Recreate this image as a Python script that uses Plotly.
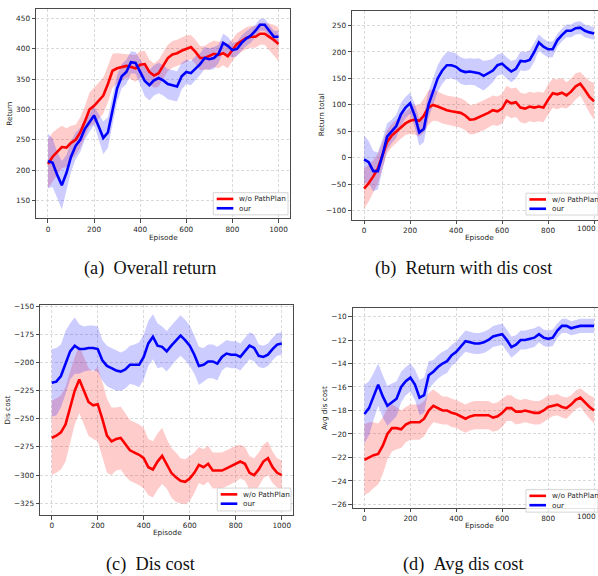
import plotly.graph_objects as go

W, H = 598, 576

episodes = list(range(0, 1001, 20))

# (a) Overall return
a_red_mean = [210, 222, 230, 238, 237, 245, 250, 262, 280, 300, 306, 315, 323, 342, 364, 368, 370, 372, 370, 368,
              374, 375, 362, 356, 360, 372, 385, 391, 393, 397, 400, 403, 395, 385, 385, 388, 392, 390, 393, 388,
              398, 408, 413, 418, 420, 420, 425, 425, 420, 415, 408]
a_red_sd = [40, 40, 38, 35, 32, 28, 25, 25, 25, 28, 30, 30, 30, 30, 28, 25, 22, 20, 20, 22,
            22, 22, 20, 20, 22, 22, 22, 22, 22, 22, 22, 20, 20, 20, 20, 22, 22, 22, 20, 20,
            18, 18, 18, 18, 18, 18, 18, 18, 22, 25, 28]
a_blue_mean = [215, 212, 192, 175, 195, 222, 240, 250, 268, 278, 290, 272, 253, 262, 300, 335, 355, 362, 378, 377,
               362, 347, 340, 348, 352, 348, 342, 340, 338, 355, 362, 360, 368, 375, 385, 383, 385, 392, 410, 405,
               398, 400, 410, 417, 422, 430, 440, 440, 430, 420, 420]
a_blue_sd = [45, 40, 38, 40, 30, 25, 22, 20, 18, 15, 15, 20, 27, 25, 25, 22, 20, 20, 18, 18,
             20, 25, 25, 25, 25, 25, 25, 25, 25, 22, 20, 20, 20, 18, 18, 18, 18, 15, 15, 15,
             12, 12, 12, 12, 12, 10, 10, 10, 10, 10, 10]

# (b) Return with dis cost
b_red_mean = [-58, -48, -35, -20, 5, 30, 42, 50, 58, 65, 70, 72, 70, 80, 95, 100, 97, 93, 90, 88,
              87, 85, 80, 72, 73, 77, 80, 85, 90, 88, 93, 108, 103, 105, 95, 93, 97, 95, 97, 95,
              110, 122, 120, 123, 118, 125, 135, 140, 128, 115, 107]
b_red_sd = [38, 35, 30, 28, 25, 22, 22, 22, 22, 22, 25, 28, 30, 32, 32, 30, 28, 28, 28, 28,
            28, 28, 28, 28, 28, 28, 28, 28, 28, 28, 28, 28, 28, 28, 28, 28, 28, 28, 28, 28,
            28, 28, 28, 28, 25, 25, 25, 22, 25, 30, 35]
b_blue_mean = [-3, -8, -25, -25, 5, 40, 50, 60, 82, 95, 103, 80, 48, 55, 100, 125, 150, 165, 175, 175,
               172, 165, 162, 163, 162, 160, 155, 160, 165, 175, 178, 170, 163, 168, 183, 182, 185, 200, 218, 210,
               205, 205, 222, 232, 240, 240, 245, 246, 240, 237, 235]
b_blue_sd = [45, 40, 38, 35, 30, 25, 22, 22, 22, 20, 20, 22, 25, 25, 25, 25, 25, 25, 25, 25,
             25, 25, 25, 25, 25, 28, 28, 25, 22, 20, 20, 20, 20, 18, 18, 18, 18, 18, 15, 15,
             15, 15, 12, 12, 12, 12, 12, 12, 12, 12, 12]

# (c) Dis cost
c_red_mean = [-267, -265, -262, -255, -240, -225, -215, -225, -235, -238, -237, -250, -265, -270, -268, -267, -273, -278, -280, -282,
              -285, -293, -295, -288, -283, -290, -298, -302, -305, -306, -303, -298, -291, -293, -290, -296, -296, -296, -294, -292,
              -290, -288, -290, -298, -300, -295, -288, -285, -293, -298, -300]
c_red_sd = [33, 33, 33, 33, 32, 30, 30, 30, 30, 30, 33, 33, 33, 30, 28, 28, 28, 27, 27, 27,
            27, 25, 25, 25, 25, 22, 22, 22, 20, 20, 20, 18, 16, 16, 16, 16, 16, 16, 16, 16,
            16, 15, 15, 15, 15, 15, 15, 15, 14, 13, 13]
c_blue_mean = [-218, -217, -212, -200, -190, -185, -188, -188, -187, -187, -188, -198, -203, -205, -207, -208, -206, -202, -202, -202,
               -195, -183, -177, -185, -186, -190, -185, -180, -176, -180, -185, -193, -203, -202, -199, -199, -201, -195, -192, -193,
               -193, -195, -190, -185, -187, -194, -195, -193, -188, -184, -183]
c_blue_sd = [30, 30, 28, 28, 25, 25, 22, 20, 20, 20, 20, 18, 18, 18, 18, 17, 17, 17, 18, 20,
             20, 20, 20, 20, 18, 18, 18, 18, 18, 18, 18, 17, 17, 15, 15, 15, 15, 12, 12, 12,
             12, 12, 12, 12, 12, 10, 10, 10, 10, 10, 10]

# (d) Avg dis cost
d_red_mean = [-22.2, -22.0, -21.8, -21.7, -21.0, -20.0, -19.5, -19.5, -19.6, -19.2, -19.0, -19.0, -19.0, -18.7, -18.0, -17.6, -17.8, -18.0, -18.0, -18.2,
              -18.3, -18.5, -18.7, -18.5, -18.4, -18.4, -18.4, -18.4, -18.6, -18.5, -18.2, -17.8, -17.8, -18.1, -18.1, -18.0, -18.1, -18.2, -18.2, -18.0,
              -17.7, -17.6, -17.5, -17.7, -17.8, -17.5, -17.1, -16.9, -17.3, -17.7, -18.0]
d_red_sd = [3.0, 3.0, 2.8, 2.6, 2.4, 2.2, 2.0, 1.8, 1.6, 1.5, 1.5, 1.5, 1.5, 1.5, 1.5, 1.4, 1.3, 1.2, 1.2, 1.2,
            1.2, 1.2, 1.2, 1.2, 1.2, 1.2, 1.2, 1.2, 1.2, 1.2, 1.2, 1.1, 1.1, 1.1, 1.0, 1.0, 1.0, 1.0, 1.0, 1.0,
            1.0, 0.9, 0.9, 0.9, 0.9, 0.8, 0.8, 0.8, 0.9, 1.0, 1.1]
d_blue_mean = [-18.3, -17.8, -16.8, -15.8, -16.8, -17.6, -17.3, -17.0, -16.0, -15.5, -15.2, -15.8, -16.9, -16.7, -15.0, -14.7, -14.3, -14.0, -13.8, -13.3,
               -13.0, -12.5, -12.1, -12.2, -12.3, -12.3, -12.2, -12.0, -11.7, -11.6, -11.5, -12.0, -12.6, -12.4, -12.0, -12.0, -11.9, -11.8, -11.5, -11.8,
               -11.9, -11.8, -11.2, -10.8, -10.8, -11.0, -10.9, -10.8, -10.8, -10.8, -10.8]
d_blue_sd = [2.5, 2.3, 2.0, 1.8, 1.8, 1.7, 1.6, 1.5, 1.3, 1.2, 1.2, 1.3, 1.5, 1.5, 1.2, 1.0, 1.0, 1.0, 1.0, 0.9,
             0.9, 0.9, 0.9, 0.9, 0.9, 0.9, 0.9, 0.9, 0.9, 0.9, 0.9, 0.9, 0.9, 0.8, 0.8, 0.8, 0.8, 0.8, 0.7, 0.7,
             0.7, 0.7, 0.6, 0.6, 0.6, 0.6, 0.6, 0.6, 0.6, 0.6, 0.6]

series_names = ["w/o PathPlan", "our"]
captions = ["(a)\u00a0\u00a0Overall return", "(b)\u00a0\u00a0Return with dis cost",
            "(c)\u00a0\u00a0Dis cost", "(d)\u00a0\u00a0Avg dis cost"]
y_titles = ["Return", "Return total", "Dis cost", "Avg dis cost"]
x_title = "Episode"
x_ticks = [0, 200, 400, 600, 800, 1000]

panels = [
    dict(red=(a_red_mean, a_red_sd), blue=(a_blue_mean, a_blue_sd),
         box=(36, 290, 6, 217), xr=[-52, 1050], yr=[120, 466], dtick=50, t0=150,
         mirror_y=True, ytitle_x=10, xtitle=(163, 236), cap=(150, 267), leg=(213.3, 191, 288, 213.3)),
    dict(red=(b_red_mean, b_red_sd), blue=(b_blue_mean, b_blue_sd),
         box=(352, 598, 8, 218.3), xr=[-52.5, 1017], yr=[-117, 277.5], dtick=50, t0=-100,
         mirror_y=False, ytitle_x=321, xtitle=(479, 236), cap=(463, 267), leg=(526, 191.5, 598, 213.5)),
    dict(red=(c_red_mean, c_red_sd), blue=(c_blue_mean, c_blue_sd),
         box=(40, 293, 304.3, 515.7), xr=[-51, 1049], yr=[-335.6, -149], dtick=25, t0=-325,
         mirror_y=True, ytitle_x=7.5, xtitle=(167, 533), cap=(150, 565), leg=(217.3, 488.5, 291, 511.5)),
    dict(red=(d_red_mean, d_red_sd), blue=(d_blue_mean, d_blue_sd),
         box=(352.7, 598, 307.3, 508.3), xr=[-51, 1017], yr=[-26.28, -9.29], dtick=2, t0=-26,
         mirror_y=False, ytitle_x=325, xtitle=(479, 526), cap=(463, 565), leg=(526, 490, 598, 512.7)),
]

RED = "#ff0000"
BLUE = "#0000ff"
FONT = "DejaVu Sans"
TXT = "#262626"
FRAME = "#4a4a4a"

fig = go.Figure()
annotations = []
shapes = []
layout_axes = {}


def px(x):
    return x / W


def py(y):
    return 1 - y / H


for i, p in enumerate(panels):
    k = "" if i == 0 else str(i + 1)
    xa, ya = "x" + k, "y" + k
    # bands
    for (mean, sd), col in ((p["red"], "rgba(255,0,0,0.2)"), (p["blue"], "rgba(0,0,255,0.2)")):
        upper = [m + s for m, s in zip(mean, sd)]
        lower = [m - s for m, s in zip(mean, sd)]
        fig.add_trace(go.Scatter(
            x=episodes + episodes[::-1], y=upper + lower[::-1],
            fill="toself", fillcolor=col, line=dict(width=0), mode="lines",
            hoverinfo="skip", showlegend=False, xaxis=xa, yaxis=ya))
    for (mean, sd), col, name in ((p["red"], RED, series_names[0]), (p["blue"], BLUE, series_names[1])):
        fig.add_trace(go.Scatter(
            x=episodes, y=mean, mode="lines", name=name,
            line=dict(color=col, width=2.6),
            showlegend=False, xaxis=xa, yaxis=ya))

    x0, x1, y0, y1 = p["box"]
    tickvals_y = []
    v = p["t0"]
    while v <= p["yr"][1] + 1e-9:
        tickvals_y.append(round(v, 6))
        v += p["dtick"]
    common = dict(showgrid=True, gridcolor="#dadada", griddash="3px,2px", gridwidth=0.8,
                  zeroline=False, ticks="outside", ticklen=3.5, tickwidth=0.8, tickcolor=FRAME,
                  tickfont=dict(family=FONT, size=7.3, color=TXT), showline=True,
                  linecolor=FRAME, linewidth=1.0)
    layout_axes["xaxis" + k] = dict(
        domain=[px(x0), px(x1)], anchor=ya, range=p["xr"], tickvals=x_ticks,
        mirror=True, **common)
    layout_axes["yaxis" + k] = dict(
        domain=[py(y1), py(y0)], anchor=xa, range=p["yr"], tickvals=tickvals_y,
        mirror=p["mirror_y"], **common)

    # the last tick label of the right-hand panels sits at the page edge
    if not p["mirror_y"]:
        annotations.append(dict(text=str(x_ticks[-1]), x=1, y=py(y1 + 8.5),
                                xref="paper", yref="paper", showarrow=False,
                                xanchor="right", yanchor="middle",
                                font=dict(family=FONT, size=7.3, color=TXT)))

    # axis titles
    annotations.append(dict(text=x_title, x=px(p["xtitle"][0]), y=py(p["xtitle"][1]),
                            xref="paper", yref="paper", showarrow=False,
                            xanchor="center", yanchor="middle",
                            font=dict(family=FONT, size=7.3, color=TXT)))
    annotations.append(dict(text=y_titles[i], x=px(p["ytitle_x"]), y=py((y0 + y1) / 2),
                            xref="paper", yref="paper", textangle=-90, showarrow=False,
                            xanchor="center", yanchor="middle",
                            font=dict(family=FONT, size=7.3, color=TXT)))
    # caption
    annotations.append(dict(text=captions[i], x=px(p["cap"][0]), y=py(p["cap"][1]),
                            xref="paper", yref="paper", showarrow=False,
                            xanchor="center", yanchor="middle",
                            font=dict(family="Liberation Serif", size=18.3, color="#111")))
    # legend box
    lx0, ly0, lx1, ly1 = p["leg"]
    shapes.append(dict(type="rect", xref="paper", yref="paper",
                       x0=px(lx0), x1=px(lx1), y0=py(ly1), y1=py(ly0),
                       fillcolor="rgba(255,255,255,0.85)", line=dict(color="#cccccc", width=0.8),
                       layer="above"))
    for j, (name, col) in enumerate(zip(series_names, (RED, BLUE))):
        yy = ly0 + 6.3 + j * 9.4
        shapes.append(dict(type="line", xref="paper", yref="paper",
                           x0=px(lx0 + 3.4), x1=px(lx0 + 20), y0=py(yy), y1=py(yy),
                           line=dict(color=col, width=2.6), layer="above"))
        annotations.append(dict(text=name, x=px(lx0 + 23.5), y=py(yy), xref="paper", yref="paper",
                                showarrow=False, xanchor="left", yanchor="middle",
                                font=dict(family=FONT, size=7.3, color=TXT)))

fig.update_layout(
    width=W, height=H, margin=dict(l=0, r=0, t=0, b=0),
    paper_bgcolor="white", plot_bgcolor="white", showlegend=False,
    annotations=annotations, shapes=shapes, **layout_axes)

fig.write_html("out.html", config={"displayModeBar": False},
               post_script="document.body.style.margin='0px';")
